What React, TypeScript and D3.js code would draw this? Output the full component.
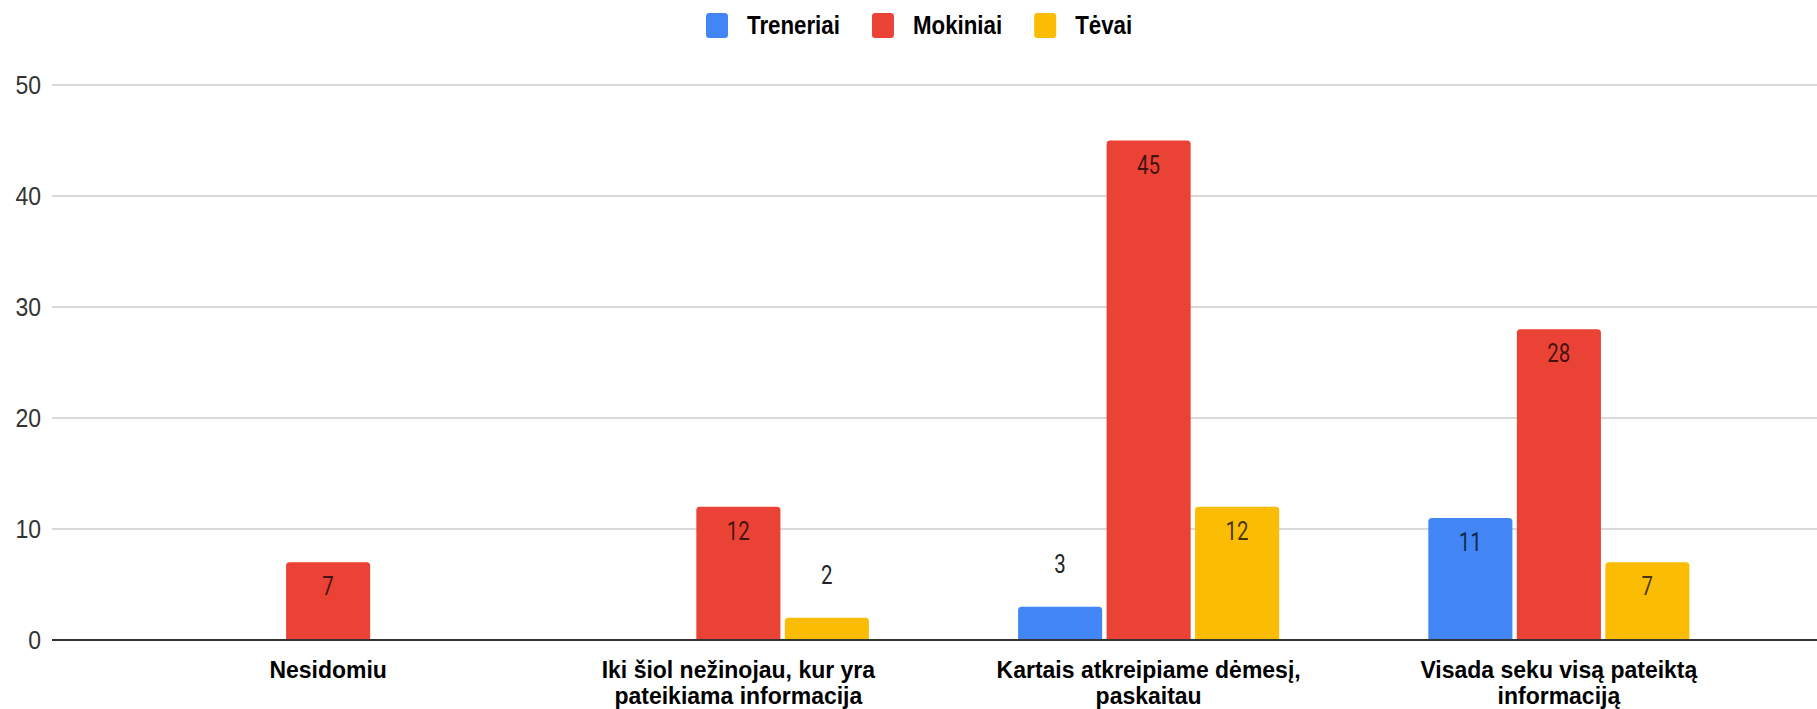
import React from "react";
import * as d3 from "d3";

const categoryLines: string[][] = [
  ["Nesidomiu"],
  ["Iki šiol nežinojau, kur yra", "pateikiama informacija"],
  ["Kartais atkreipiame dėmesį,", "paskaitau"],
  ["Visada seku visą pateiktą", "informaciją"],
];
const seriesNames = ["Treneriai", "Mokiniai", "Tėvai"];
const treneriai = [0, 0, 3, 11];
const mokiniai = [7, 12, 45, 28];
const tevai = [0, 2, 12, 7];
const yTicks = [0, 10, 20, 30, 40, 50];
const seriesColors = ["#4285F4", "#EA4335", "#FBBC04"];

const W = 1817;
const H = 709;

function topRounded(x: number, y: number, w: number, h: number, r: number) {
  const rr = Math.min(r, h, w / 2);
  return `M${x},${y + h}V${y + rr}Q${x},${y} ${x + rr},${y}H${x + w - rr}Q${x + w},${y} ${x + w},${y + rr}V${y + h}Z`;
}

function measure(text: string, font: string) {
  const c = document.createElement("canvas");
  const ctx = c.getContext("2d")!;
  ctx.font = font;
  return ctx.measureText(text).width;
}

export default function App() {
  const seriesValues = [treneriai, mokiniai, tevai];
  const cats = categoryLines.map((_, i) => String(i));

  const y = d3.scaleLinear().domain([0, 50]).range([640, 85]);
  const x0 = d3.scaleBand<string>().domain(cats).range([123, 1764]).padding(0);
  const groupW = 265.5;
  const x1 = d3
    .scaleBand<string>()
    .domain(seriesNames)
    .range([-groupW / 2, groupW / 2])
    .paddingInner(0.05)
    .paddingOuter(0.025);

  const gridLeft = 52;
  const gridRight = W;

  // legend layout
  const legendFontSize = 22.3;
  const legendFont = `bold ${legendFontSize}px "Liberation Sans", Arial, sans-serif`;
  const sq = 22;
  let lx = 706;
  const legendItems = seriesNames.map((name, i) => {
    const item = { name, color: seriesColors[i], x: lx };
    const tw = measure(name, legendFont);
    lx += sq + 19 + tw + 32;
    return item;
  });

  const fam = '"Liberation Sans", Arial, sans-serif';
  const valFam = 'Roboto, "Liberation Sans", Arial, sans-serif';

  return (
    <div>
      <style>{"body{margin:0;overflow:hidden;background:#fff}"}</style>
      <svg width={W} height={H} viewBox={`0 0 ${W} ${H}`} style={{ display: "block" }}>
        <rect x={0} y={0} width={W} height={H} fill="#fff" />
        {/* legend */}
        {legendItems.map((it) => (
          <g key={it.name}>
            <rect x={it.x} y={13} width={sq} height={25} rx={3} ry={3.5} fill={it.color} />
            <text
              transform={`translate(${it.x + sq + 19},33.5) scale(1,1.17)`}
              fontFamily={fam}
              fontWeight="bold"
              fontSize={legendFontSize}
              fill="#000"
            >
              {it.name}
            </text>
          </g>
        ))}
        {/* gridlines */}
        {yTicks.map((t) => (
          <g key={t}>
            {t !== 0 && (
              <line x1={gridLeft} x2={gridRight} y1={y(t)} y2={y(t)} stroke="#cccccc" strokeWidth={1.6} />
            )}
            <text
              transform={`translate(41,${y(t) + 9}) scale(1,1.1)`}
              textAnchor="end"
              fontFamily={fam}
              fontSize={23}
              fill="#333"
            >
              {t}
            </text>
          </g>
        ))}
        {/* bars */}
        {cats.map((c, ci) => (
          <g key={c} transform={`translate(${x0(c)! + x0.bandwidth() / 2},0)`}>
            {seriesNames.map((s, si) => {
              const v = seriesValues[si][ci];
              if (!v) return null;
              const bx = x1(s)!;
              const bw = x1.bandwidth();
              const top = y(v);
              const h = y(0) - top;
              const inside = h > 45;
              return (
                <g key={s}>
                  <path d={topRounded(bx, top, bw, h, 3.5)} fill={seriesColors[si]} />
                  <text
                    transform={`translate(${bx + bw / 2},${inside ? top + 33 : top - 33.5}) scale(1,1.3)`}
                    textAnchor="middle"
                    fontFamily={valFam}
                    fontSize={20.5}
                    fill={inside ? "#000" : "#222"}
                    fillOpacity={inside ? 0.72 : 1}
                  >
                    {v}
                  </text>
                </g>
              );
            })}
          </g>
        ))}
        {/* baseline */}
        <line x1={gridLeft} x2={gridRight} y1={y(0)} y2={y(0)} stroke="#333" strokeWidth={1.8} />
        {/* category labels */}
        {cats.map((c, ci) => (
          <g key={"l" + c}>
            {categoryLines[ci].map((ln, li) => (
              <text
                key={li}
                transform={`translate(${x0(c)! + x0.bandwidth() / 2},${678 + li * 25.5}) scale(1,1.08)`}
                textAnchor="middle"
                fontFamily={fam}
                fontWeight="bold"
                fontSize={23}
                fill="#000"
              >
                {ln}
              </text>
            ))}
          </g>
        ))}
      </svg>
    </div>
  );
}
